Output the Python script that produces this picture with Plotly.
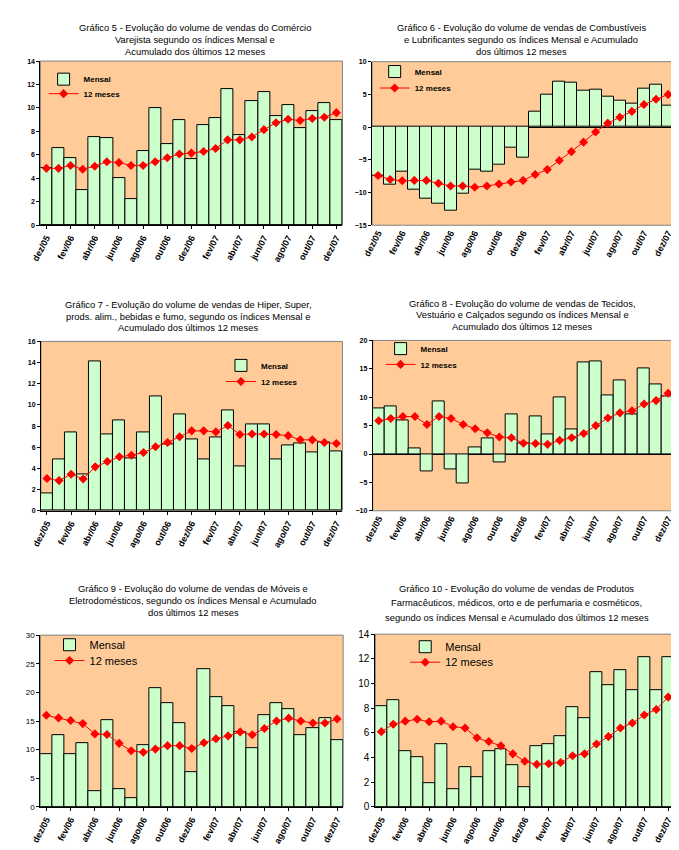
import plotly.graph_objects as go

months = ["dez/05", "jan/06", "fev/06", "mar/06", "abr/06", "mai/06", "jun/06",
          "jul/06", "ago/06", "set/06", "out/06", "nov/06", "dez/06",
          "jan/07", "fev/07", "mar/07", "abr/07", "mai/07", "jun/07",
          "jul/07", "ago/07", "set/07", "out/07", "nov/07", "dez/07"]
tick_labels = months[::2]

# Gráfico 5 - Comércio Varejista
g5_mensal = [4.9, 6.55, 5.7, 3.0, 7.5, 7.4, 4.0, 2.2, 6.3, 10.0, 6.95, 9.0, 5.6,
             8.5, 9.15, 11.6, 7.65, 10.6, 11.35, 9.35, 10.25, 8.3, 9.75, 10.45, 9.0]
g5_12m = [4.85, 4.85, 5.1, 4.78, 5.03, 5.42, 5.34, 5.1, 5.1, 5.42, 5.76, 6.07, 6.15,
          6.29, 6.54, 7.28, 7.28, 7.53, 8.15, 8.74, 9.04, 8.93, 9.1, 9.21, 9.6]

# Gráfico 6 - Combustíveis e Lubrificantes
g6_mensal = [-7.35, -8.8, -6.8, -9.55, -11.0, -11.75, -12.8, -10.25, -6.45, -6.8, -5.7,
             -3.15, -4.65, 2.4, 5.0, 6.95, 6.8, 5.6, 5.75, 4.7, 4.05, 3.6, 5.9, 6.5, 3.3]
g6_12m = [-7.4, -8.0, -8.2, -8.15, -8.15, -8.6, -9.0, -9.0, -9.2, -9.0, -8.7, -8.4,
          -8.15, -7.25, -6.5, -5.1, -3.75, -2.3, -0.75, 0.6, 1.5, 2.4, 3.45, 4.25, 5.0]

# Gráfico 7 - Hiper, Super, prods. alim., bebidas e fumo
g7_mensal = [1.65, 4.85, 7.45, 3.45, 14.15, 7.25, 8.55, 4.95, 7.45, 10.8, 6.25, 9.15,
             6.7, 4.85, 6.9, 9.5, 4.2, 8.2, 8.2, 4.85, 6.15, 6.35, 5.5, 6.45, 5.6]
g7_12m = [3.05, 2.85, 3.45, 3.0, 4.15, 4.65, 5.1, 5.25, 5.5, 6.05, 6.45, 7.0, 7.55,
          7.55, 7.45, 8.05, 7.2, 7.25, 7.25, 7.2, 7.1, 6.7, 6.7, 6.45, 6.35]

# Gráfico 8 - Tecidos, Vestuário e Calçados
g8_mensal = [8.1, 8.3, 6.0, 1.0, -3.15, 9.3, -2.65, -5.1, 1.15, 2.7, -1.4, 7.05, 1.9,
             6.55, 3.4, 10.0, 4.3, 16.1, 16.25, 10.35, 12.95, 7.05, 15.15, 12.25, 10.2]
g8_12m = [5.85, 6.25, 6.6, 6.6, 5.2, 6.6, 6.25, 5.2, 4.45, 3.75, 3.0, 2.85, 1.9,
          1.85, 1.7, 2.4, 2.85, 3.6, 5.0, 6.35, 7.25, 7.6, 8.8, 9.4, 10.7]

# Gráfico 9 - Móveis e Eletrodomésticos
g9_mensal = [9.3, 12.6, 9.3, 11.05, 2.75, 15.15, 3.1, 1.55, 10.7, 20.7, 18.1, 14.6, 6.0,
             24.1, 19.1, 17.6, 13.1, 10.35, 16.0, 18.1, 17.0, 12.6, 13.8, 15.5, 11.7]
g9_12m = [16.0, 15.55, 15.1, 14.55, 12.75, 12.65, 11.1, 9.8, 9.55, 10.1, 10.7, 10.7,
          10.2, 11.2, 11.9, 12.4, 13.1, 12.6, 13.7, 15.0, 15.5, 15.0, 14.65, 14.65, 15.35]

# Gráfico 10 - Farmacêuticos, médicos, orto e perfumaria
g10_mensal = [8.15, 8.65, 4.5, 4.0, 1.9, 5.1, 1.45, 3.2, 2.4, 4.55, 4.7, 3.35, 1.6,
              4.9, 5.1, 5.75, 8.1, 7.2, 10.9, 9.9, 11.05, 9.45, 12.1, 9.45, 12.15]
g10_12m = [6.1, 6.7, 6.95, 7.1, 6.9, 6.95, 6.5, 6.4, 5.6, 5.3, 4.95, 4.3, 3.7,
           3.45, 3.5, 3.6, 4.15, 4.3, 5.1, 5.7, 6.4, 6.8, 7.45, 7.9, 8.9]

titles = [
    ["Gráfico 5 - Evolução do volume de vendas do Comércio",
     "Varejista segundo os índices Mensal e",
     "Acumulado dos últimos 12 meses"],
    ["Gráfico 6 - Evolução do volume de vendas de Combustíveis",
     "e Lubrificantes segundo os índices Mensal e Acumulado",
     "dos últimos 12 meses"],
    ["Gráfico 7 - Evolução do volume de vendas de Hiper, Super,",
     "prods. alim., bebidas e fumo, segundo os índices Mensal e",
     "Acumulado dos últimos 12 meses"],
    ["Gráfico 8 - Evolução do volume de vendas de Tecidos,",
     "Vestuário e Calçados segundo os índices Mensal e",
     "Acumulado dos últimos 12 meses"],
    ["Gráfico 9 - Evolução do volume de vendas de Móveis e",
     "Eletrodomésticos, segundo os índices Mensal e Acumulado",
     "dos últimos 12 meses"],
    ["Gráfico 10 - Evolução do volume de vendas de Produtos",
     "Farmacêuticos, médicos, orto e de perfumaria e cosméticos,",
     "segundo os índices Mensal e Acumulado dos últimos 12 meses"],
]
series_names = ["Mensal", "12 meses"]
mensal_all = [g5_mensal, g6_mensal, g7_mensal, g8_mensal, g9_mensal, g10_mensal]
acum_all = [g5_12m, g6_12m, g7_12m, g8_12m, g9_12m, g10_12m]
y_ranges = [(0, 14), (-15, 10), (0, 16), (-10, 20), (0, 30), (0, 14)]
y_dticks = [2, 5, 2, 5, 5, 2]

# ---------- layout (pixel geometry) ----------
W, H = 679, 850
plot_px = [  # left, right, top, bottom
    (22.7, 329.3, 47.7, 214.0),
    (359.3, 666.0, 48.3, 214.0),
    (23.3, 329.3, 331.7, 503.3),
    (360.0, 666.0, 330.7, 503.3),
    (22.7, 330.0, 629.3, 803.3),
    (362.7, 666.0, 628.3, 803.3),
]
title_px = [  # center x, line center ys
    (180, [14, 26, 38.3]),
    (511, [14, 26, 38.3]),
    (173, [294, 306, 317.5]),
    (512, [293, 304.5, 317]),
    (178, [582, 594.5, 606]),
    (506, [582, 596, 611]),
]
legend_px = [  # text start x, item1 y, item2 y
    (78, 76, 90.7),
    (414, 68.3, 85),
    (258, 366, 382.3),
    (420, 349, 365),
    (84, 644, 660),
    (445, 646, 661.7),
]
legend_font = [dict(size=8, weight="bold")] * 4 + [dict(size=11), dict(size=11)]
legend_dy = [10, 10, 10, 10, 5, 5]
ytick_font = [dict(size=7, weight="bold")] * 4 + [dict(size=8), dict(size=10)]

FONT = "Liberation Sans, Arial, sans-serif"
fig = go.Figure()
layout = dict(
    width=W, height=H, margin=dict(l=0, r=0, t=0, b=0),
    paper_bgcolor="white", plot_bgcolor="#FFCC99", showlegend=True,
    bargap=0, font=dict(family=FONT, color="black"),
    annotations=[], shapes=[],
)

for i in range(6):
    n = i + 1
    sfx = "" if n == 1 else str(n)
    xa, ya = "x" + sfx, "y" + sfx
    l, r, t, b = plot_px[i]
    lg1 = "legend" + ("" if n == 1 else str(2 * n - 1))
    lg2 = "legend" + str(2 * n)

    fig.add_trace(go.Bar(
        x=months, y=mensal_all[i], xaxis=xa, yaxis=ya, name=series_names[0],
        marker=dict(color="#CCFFCC", line=dict(color="black", width=1)),
        legend=lg1, showlegend=True,
    ))
    fig.add_trace(go.Scatter(
        x=months, y=acum_all[i], xaxis=xa, yaxis=ya, name=series_names[1],
        mode="lines+markers", line=dict(color="#FF0000", width=1),
        marker=dict(symbol="diamond", size=7, color="#FF0000"),
        legend=lg2, showlegend=True,
    ))

    has_neg = y_ranges[i][0] < 0
    layout["xaxis" + sfx] = dict(
        domain=[l / W, r / W], anchor=ya, type="category",
        range=[-0.5, len(months) - 0.5],
        tickmode="array", tickvals=tick_labels, ticktext=tick_labels,
        tickangle=-62, tickfont=dict(size=9, weight="bold", family=FONT),
        showline=not has_neg, linecolor="black", linewidth=1,
        ticks="" if has_neg else "outside", ticklen=3, tickcolor="black",
        showgrid=False, zeroline=False, fixedrange=True,
    )
    layout["yaxis" + sfx] = dict(
        domain=[1 - b / H, 1 - t / H], anchor=xa,
        range=list(y_ranges[i]), dtick=y_dticks[i], tick0=y_ranges[i][0],
        showline=True, linecolor="black", linewidth=1,
        ticks="outside", ticklen=3, tickcolor="black",
        tickfont=dict(family=FONT, **ytick_font[i]),
        showgrid=False, zeroline=has_neg, zerolinecolor="black", zerolinewidth=1,
        fixedrange=True,
    )
    layout["shapes"].append(dict(
        type="rect", xref=xa + " domain", yref=ya + " domain",
        x0=0, x1=1, y0=0, y1=1, line=dict(color="#808080", width=1),
        layer="below",
    ))
    cx, ys = title_px[i]
    for line_txt, yy in zip(titles[i], ys):
        layout["annotations"].append(dict(
            text=line_txt, x=cx / W, y=1 - yy / H, xref="paper", yref="paper",
            xanchor="center", yanchor="middle", showarrow=False,
            font=dict(size=9.4, family=FONT, color="black"),
        ))
    tx, y1, y2 = legend_px[i]
    for lg, yy in ((lg1, y1), (lg2, y2)):
        layout[lg] = dict(
            x=(tx - 52) / W, y=1 - (yy - legend_dy[i]) / H,
            xanchor="left", yanchor="middle",
            xref="paper", yref="paper",
            bgcolor="rgba(0,0,0,0)", borderwidth=0,
            font=dict(family=FONT, color="black", **legend_font[i]),
        )

fig.update_layout(**layout)
fig.write_html("out.html")
